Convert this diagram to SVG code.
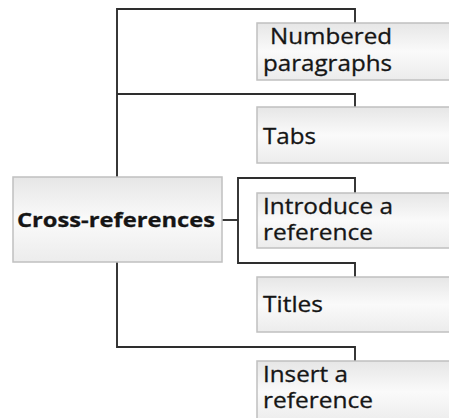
<svg xmlns="http://www.w3.org/2000/svg" width="449" height="418" viewBox="0 0 449 418">
<defs>
<linearGradient id="g" x1="0" y1="0" x2="0" y2="1">
<stop offset="0" stop-color="#e6e6e6"/>
<stop offset="0.5" stop-color="#fafafa"/>
<stop offset="1" stop-color="#ececec"/>
</linearGradient>
</defs>
<style>
.box{fill:url(#g);stroke:#c0c0c0;stroke-width:1.5}
.t{font-family:"Open Sans","Liberation Sans",sans-serif;font-size:21px;fill:#151515;stroke:#151515;stroke-width:0.3}
.b{font-weight:bold;font-size:20px}
.c{fill:none;stroke:#2e2e2e;stroke-width:1.9}
</style>
<rect width="449" height="418" fill="#fff"/>
<g id="connectors">
<path class="c" d="M117,177 V9 H355 V23"/>
<path class="c" d="M117,94 H355 V107"/>
<path class="c" d="M117,262 V347 H355 V361"/>
<path class="c" d="M222,220 H238"/>
<path class="c" d="M355,193 V178 H238 V263 H355 V277"/>
</g>
<g id="root">
<rect class="box" x="13" y="177" width="209" height="85"/>
<text class="t b" x="17" y="227" textLength="198" lengthAdjust="spacingAndGlyphs">Cross-references</text>
</g>
<g id="n1">
<rect class="box" x="257" y="23" width="200" height="57"/>
<text class="t" x="270" y="44" textLength="122" lengthAdjust="spacingAndGlyphs">Numbered</text>
<text class="t" x="263" y="71" textLength="129" lengthAdjust="spacingAndGlyphs">paragraphs</text>
</g>
<g id="n2">
<rect class="box" x="257" y="107" width="200" height="56"/>
<text class="t" x="263" y="144" textLength="53" lengthAdjust="spacingAndGlyphs">Tabs</text>
</g>
<g id="n3">
<rect class="box" x="257" y="193" width="200" height="55"/>
<text class="t" x="263" y="214" textLength="130" lengthAdjust="spacingAndGlyphs">Introduce a</text>
<text class="t" x="263" y="240" textLength="110" lengthAdjust="spacingAndGlyphs">reference</text>
</g>
<g id="n4">
<rect class="box" x="257" y="277" width="200" height="55"/>
<text class="t" x="263" y="312" textLength="60" lengthAdjust="spacingAndGlyphs">Titles</text>
</g>
<g id="n5">
<rect class="box" x="257" y="361" width="200" height="62"/>
<text class="t" x="263" y="382" textLength="85" lengthAdjust="spacingAndGlyphs">Insert a</text>
<text class="t" x="263" y="408" textLength="110" lengthAdjust="spacingAndGlyphs">reference</text>
</g>
</svg>
